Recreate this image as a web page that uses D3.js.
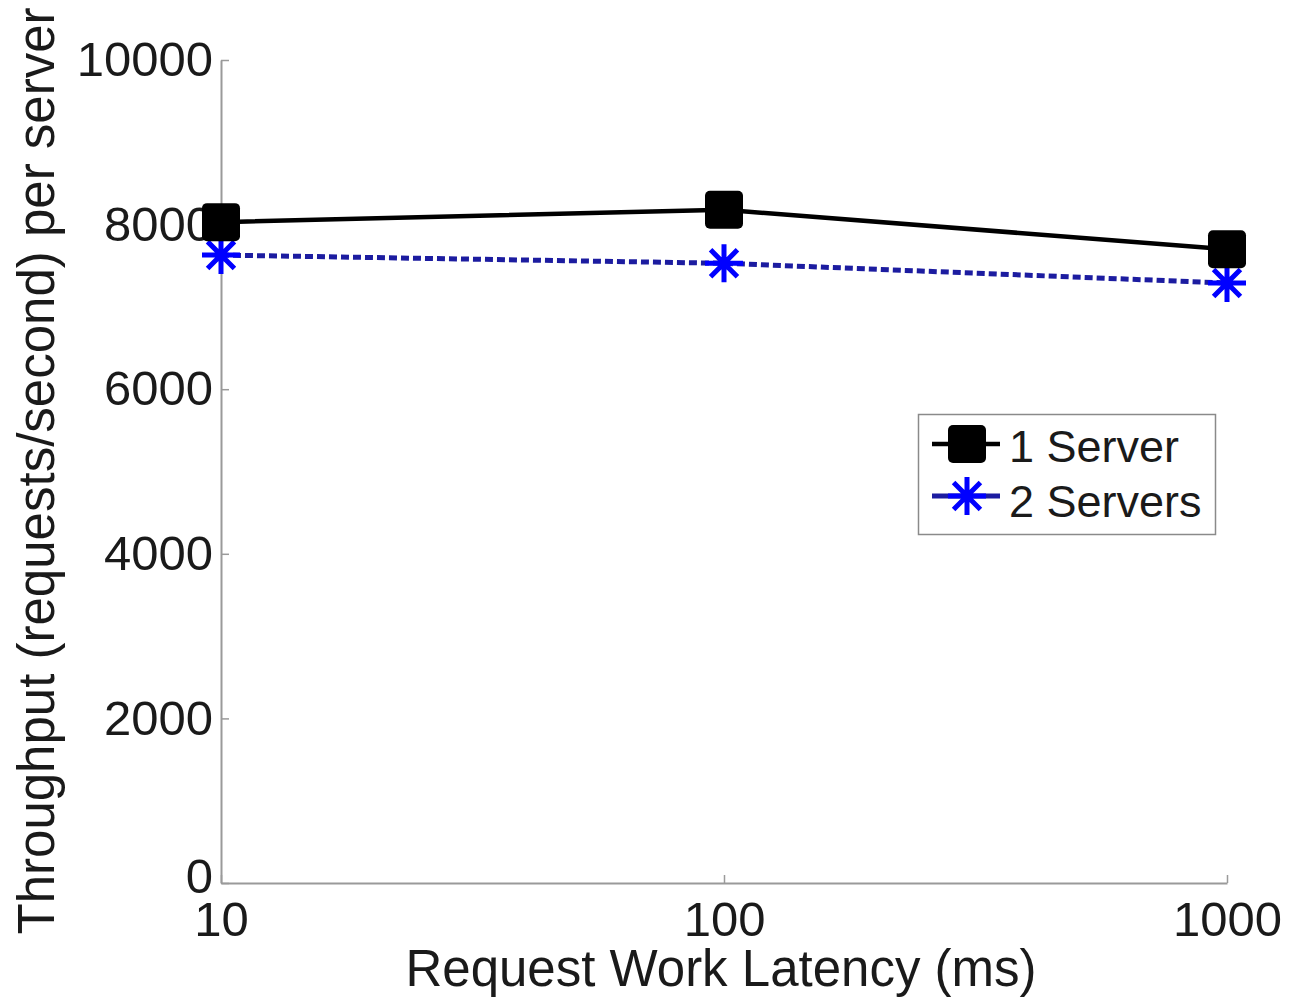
<!DOCTYPE html>
<html>
<head>
<meta charset="utf-8">
<script src="https://cdn.jsdelivr.net/npm/d3@7"></script>
<style>
  body { margin: 0; background: #fff; }
  text { font-family: "Liberation Sans", Arial, sans-serif; fill: #1a1a1a; }
</style>
</head>
<body>
<div id="chart"></div>
<script>
// data
const latencies = [10, 100, 1000];
const oneServer = [8030, 8180, 7700];
const twoServers = [7630, 7530, 7290];
const xTicks = [10, 100, 1000];
const yTicks = [0, 2000, 4000, 6000, 8000, 10000];
const seriesNames = ["1 Server", "2 Servers"];

const width = 1291, height = 998;
const margin = {top: 60, right: 64, bottom: 115, left: 221};
const innerW = width - margin.left - margin.right;
const innerH = height - margin.top - margin.bottom;

const svg = d3.select("#chart")
	.append("svg")
	.attr("width", width)
	.attr("height", height);

const g = svg.append("g")
	.attr("transform", "translate(" + margin.left + "," + margin.top + ")");

const x = d3.scaleLog().domain([10, 1000]).range([0, innerW]);
const y = d3.scaleLinear().domain([0, 10000]).range([innerH, 0]);

// axes, ticks pointing inward like matlab
const yAxis = d3.axisLeft(y)
	.tickValues(yTicks)
	.tickFormat(d3.format("d"))
	.tickSizeInner(-8)
	.tickSizeOuter(0)
	.tickPadding(8);

const xAxis = d3.axisBottom(x)
	.tickValues(xTicks)
	.tickFormat(d3.format("d"))
	.tickSizeInner(-8)
	.tickSizeOuter(0)
	.tickPadding(18);

const gy = g.append("g").attr("class", "y axis").call(yAxis);
const gx = g.append("g").attr("class", "x axis")
	.attr("transform", "translate(0," + innerH + ")")
	.call(xAxis);

[gx, gy].forEach(a => {
	a.select(".domain").attr("stroke", "#9a9a9a").attr("stroke-width", 2);
	a.selectAll(".tick line").attr("stroke", "#9a9a9a").attr("stroke-width", 1.5);
	a.selectAll(".tick text")
		.style("font-family", "'Liberation Sans', Arial, sans-serif")
		.style("font-size", "49px")
		.attr("fill", "#1a1a1a");
});
// the 0 label sits a bit above the corner in the original
gy.selectAll(".tick text").filter(d => d === 0).attr("dy", "0.2em");

// axis titles
svg.append("text")
	.attr("x", 721)
	.attr("y", 986)
	.attr("text-anchor", "middle")
	.style("font-size", "51px")
	.text("Request Work Latency (ms)");

svg.append("text")
	.attr("transform", "translate(54,471) rotate(-90)")
	.attr("text-anchor", "middle")
	.style("font-size", "51px")
	.text("Throughput (requests/second) per server");

// 8-armed asterisk marker
const asterisk = r => {
	const p = d3.path();
	for (let i = 0; i < 4; i++) {
		const a = i * Math.PI / 4;
		p.moveTo(-r * Math.cos(a), -r * Math.sin(a));
		p.lineTo(r * Math.cos(a), r * Math.sin(a));
	}
	return p.toString();
};

const line = d3.line()
	.x(d => x(d[0]))
	.y(d => y(d[1]));

const one = latencies.map((l, i) => [l, oneServer[i]]);
const two = latencies.map((l, i) => [l, twoServers[i]]);

// 2 servers: blue dashed with asterisks
g.append("path")
	.datum(two)
	.attr("d", line)
	.attr("fill", "none")
	.attr("stroke", "#1c1ca0")
	.attr("stroke-width", 5)
	.attr("stroke-dasharray", "8,4");

// 1 server: black solid with squares
g.append("path")
	.datum(one)
	.attr("d", line)
	.attr("fill", "none")
	.attr("stroke", "#000")
	.attr("stroke-width", 4.5);

g.selectAll("path.star")
	.data(two)
	.enter().append("path")
	.attr("class", "star")
	.attr("transform", d => "translate(" + x(d[0]) + "," + y(d[1]) + ")")
	.attr("d", asterisk(19))
	.attr("stroke", "#0000ff")
	.attr("stroke-width", 5);

g.selectAll("rect.sq")
	.data(one)
	.enter().append("rect")
	.attr("class", "sq")
	.attr("x", d => x(d[0]) - 19)
	.attr("y", d => y(d[1]) - 19)
	.attr("width", 38)
	.attr("height", 38)
	.attr("rx", 5)
	.attr("fill", "#000");

// legend
const legend = svg.append("g").attr("class", "legend");
legend.append("rect")
	.attr("x", 918.5)
	.attr("y", 414.5)
	.attr("width", 297)
	.attr("height", 120)
	.attr("fill", "#fff")
	.attr("stroke", "#8a8a8a")
	.attr("stroke-width", 1.5);

const rows = [
	{name: seriesNames[0], cy: 444, color: "#000"},
	{name: seriesNames[1], cy: 496, color: "#0000ff"}
];

rows.forEach((r, i) => {
	legend.append("line")
		.attr("x1", 932).attr("x2", 1000)
		.attr("y1", r.cy).attr("y2", r.cy)
		.attr("stroke", i === 0 ? "#000" : "#1c1ca0")
		.attr("stroke-width", i === 0 ? 4.5 : 5);
	if (i === 0) {
		legend.append("rect")
			.attr("x", 948).attr("y", r.cy - 19)
			.attr("width", 38).attr("height", 38)
			.attr("rx", 5)
			.attr("fill", "#000");
	} else {
		legend.append("path")
			.attr("transform", "translate(967," + r.cy + ")")
			.attr("d", asterisk(19))
			.attr("stroke", "#0000ff")
			.attr("stroke-width", 5);
	}
	legend.append("text")
		.attr("x", 1009)
		.attr("y", r.cy + 18 + i * 3)
		.style("font-size", "45px")
		.text(r.name);
});
</script>
</body>
</html>
